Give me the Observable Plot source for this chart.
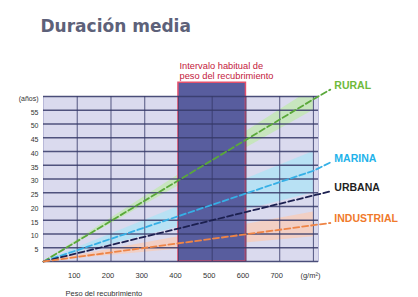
<!DOCTYPE html>
<html>
<head>
<meta charset="utf-8">
<script src="https://cdn.jsdelivr.net/npm/d3@7"></script>
<script src="https://cdn.jsdelivr.net/npm/@observablehq/plot@0.6"></script>
<style>
  html, body { margin: 0; padding: 0; background: #ffffff; }
  #chart svg { display: block; }
</style>
</head>
<body>
<div id="chart"></div>
<script>
// ---- data ----
const weights = [0, 800];               // g/m2
const leaderX = 850;                    // end of leader line
const labelX = 862;
const series = ["RURAL", "MARINA", "URBANA", "INDUSTRIAL"];
const values800 = [59, 33, 24, 13.2];   // years at 800 g/m2
const labelY = [64, 37.5, 27, 15.5];    // label positions (years)
const colors = ["#5aa83a", "#36b0e6", "#1c2050", "#ee8446"];
const labelColors = ["#6fba3a", "#22b2ea", "#1f1f1f", "#f07a2c"];
const bandSeries = ["RURAL", "MARINA", "INDUSTRIAL"];
const bandLow800 = [55, 25, 9];
const bandHigh800 = [63, 40, 18];
const bandFill = ["#c4e6b8", "#b4e1f4", "#f4cdbf"];
const intervalX = [400, 600];
const intervalTop = 65;
const xTickValues = [100, 200, 300, 400, 500, 600, 700, 800];
const xTickLabels = ["100", "200", "300", "400", "500", "600", "700", "(g/m²)"];
const yTickValues = [5, 10, 15, 20, 25, 30, 35, 40, 45, 50, 55, 60];
const yTickLabels = ["5", "10", "15", "20", "25", "30", "35", "40", "45", "50", "55", "(años)"];
const yGrid = [0, 5, 10, 15, 20, 25, 30, 35, 40, 45, 50, 55, 60];
const titleText = "Duración media";
const noteText = ["Intervalo habitual de", "peso del recubrimiento"];
const xTitle = "Peso del recubrimiento";

// ---- tables built from the arrays ----
const lineRows = [];
series.forEach((s, i) => {
  lineRows.push({s, x: weights[0], y: 0});
  lineRows.push({s, x: weights[1], y: values800[i]});
  lineRows.push({s, x: leaderX, y: labelY[i] - 1.5});
});
const bandRows = [];
bandSeries.forEach((s, i) => {
  weights.forEach(w => {
    bandRows.push({s, x: w, y1: bandLow800[i] * w / 800, y2: bandHigh800[i] * w / 800});
  });
});
const labelRows = series.map((s, i) => ({s, x: labelX, y: labelY[i], c: labelColors[i]}));

const chart = Plot.plot({
  width: 418,
  height: 297,
  marginTop: 96,
  marginBottom: 36,
  marginLeft: 43,
  marginRight: 100,
  x: {domain: [0, 815], axis: null},
  y: {domain: [0, 60], axis: null},
  color: {domain: series, range: colors},
  style: {background: "#ffffff", fontFamily: "'Liberation Sans', Arial, sans-serif"},
  marks: [
    Plot.frame({fill: "#dadaee", stroke: "#b8b8d8"}),
    Plot.areaY(bandRows, {x: "x", y1: "y1", y2: "y2", z: "s",
      fill: d => bandFill[bandSeries.indexOf(d.s)], fillOpacity: 0.9, clip: true}),
    Plot.rect([0], {x1: intervalX[0], x2: intervalX[1], y1: 0, y2: intervalTop,
      fill: "#585d9e", stroke: "#e4506c", strokeWidth: 1.5}),
    Plot.gridY(yGrid, {stroke: "#363a68", strokeOpacity: 0.85, strokeWidth: 1.3}),
    Plot.gridX(xTickValues, {stroke: "#363a68", strokeOpacity: 0.75, strokeWidth: 1.1}),
    Plot.line(lineRows, {x: "x", y: "y", z: "s", stroke: "s", strokeWidth: 1.8,
      strokeDasharray: "6,3"}),
    Plot.text(labelRows, {x: "x", y: "y", text: "s", fill: "c", textAnchor: "start",
      fontWeight: "bold", fontSize: 10.5}),
    Plot.axisY(yTickValues, {tickSize: 0, tickPadding: 5, fontSize: 7, fill: "#333",
      tickFormat: d => yTickLabels[yTickValues.indexOf(d)], label: null, dy: 2}),
    Plot.axisX(xTickValues, {tickSize: 0, tickPadding: 11, fontSize: 7.5, fill: "#333",
      tickFormat: d => xTickLabels[xTickValues.indexOf(d)], label: null, dx: -3}),
    Plot.text([xTitle], {frameAnchor: "bottom-left", dx: 22, dy: 34, fontSize: 7.5,
      fill: "#333", textAnchor: "start"}),
    Plot.text([noteText.join("\n")], {x: intervalX[0], y: intervalTop, dx: 1, dy: -4,
      textAnchor: "start", lineAnchor: "bottom", fill: "#c3203c", fontSize: 9.3,
      lineHeight: 1.0}),
    Plot.text([titleText], {frameAnchor: "top-left", dx: -3, dy: -77, fontSize: 17,
      fontWeight: "bold", fill: "#5d6179", textAnchor: "start",
      fontFamily: "'DejaVu Sans', sans-serif"})
  ]
});
document.getElementById("chart").appendChild(chart);
</script>
</body>
</html>
